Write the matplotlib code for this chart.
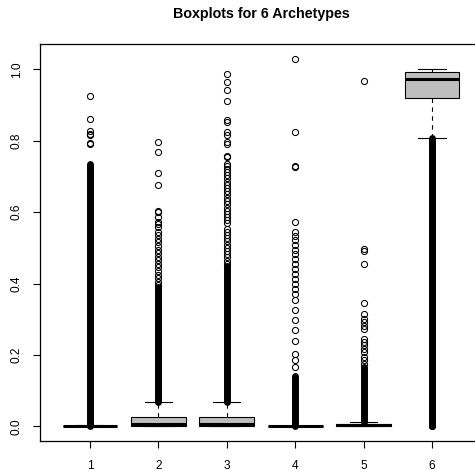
import matplotlib
matplotlib.use("Agg")
import matplotlib.pyplot as plt

plt.rcParams['font.family'] = ['Liberation Sans', 'DejaVu Sans']

categories = ["1", "2", "3", "4", "5", "6"]
title = "Boxplots for 6 Archetypes"

q1 = [0.0, 0.001, 0.001, 0.0, 0.002, 0.920]
medians = [0.0, 0.006, 0.006, 0.0, 0.004, 0.972]
q3 = [0.001, 0.027, 0.027, 0.001, 0.006, 0.993]
whislo = [0.0, 0.0, 0.0, 0.0, 0.0, 0.809]
whishi = [0.005, 0.067, 0.067, 0.001, 0.012, 1.0]

# sparse outliers
out1 = [0.926, 0.861, 0.828, 0.820, 0.815, 0.793, 0.790]
out2 = [0.796, 0.768, 0.709, 0.676, 0.603, 0.600, 0.587, 0.573, 0.568, 0.559,
        0.545, 0.535, 0.525, 0.515, 0.505, 0.495, 0.485, 0.475, 0.465, 0.455,
        0.445, 0.435, 0.425, 0.415, 0.405, 0.395]
out3 = [0.987, 0.965, 0.942, 0.912, 0.859, 0.852, 0.824, 0.815, 0.798, 0.790,
        0.756, 0.754, 0.735, 0.728, 0.720, 0.712, 0.703, 0.695, 0.685, 0.676,
        0.668, 0.659, 0.650, 0.641, 0.632, 0.622, 0.613, 0.604, 0.595, 0.586,
        0.578, 0.569, 0.554, 0.545, 0.536, 0.527, 0.518, 0.509, 0.500, 0.491,
        0.482, 0.473, 0.464, 0.455]
out4 = [1.030, 0.824, 0.728, 0.726, 0.573, 0.545, 0.533, 0.522, 0.508, 0.495,
        0.484, 0.470, 0.456, 0.442, 0.428, 0.414, 0.400, 0.386, 0.372, 0.353,
        0.325, 0.297, 0.269, 0.240, 0.203, 0.185, 0.166]
out5 = [0.968, 0.497, 0.492, 0.455, 0.345, 0.316, 0.302, 0.292, 0.281, 0.274,
        0.245, 0.236, 0.227, 0.217, 0.208, 0.194, 0.185, 0.175]
out6 = [0.0]
outliers = [out1, out2, out3, out4, out5, out6]

# ranges where outliers overlap into a solid column
dense_lo = [0.0, 0.068, 0.068, 0.0, 0.012, 0.0]
dense_hi = [0.735, 0.390, 0.450, 0.140, 0.166, 0.809]

W, H = 475, 473
fig = plt.figure(figsize=(W / 100, H / 100), dpi=100)
ax = fig.add_axes([39.5 / W, 32 / H, 443 / W, 397 / H])

positions = list(range(1, len(categories) + 1))
stats = []
for i in range(len(categories)):
    stats.append(dict(med=medians[i], q1=q1[i], q3=q3[i],
                      whislo=whislo[i], whishi=whishi[i], fliers=[]))

ax.bxp(stats, positions=positions, widths=0.8, capwidths=0.4,
       patch_artist=True, showfliers=False,
       boxprops=dict(facecolor='#BEBEBE', edgecolor='black', linewidth=0.8),
       medianprops=dict(color='black', linewidth=2.2, solid_capstyle='butt'),
       whiskerprops=dict(color='black', linewidth=0.8, linestyle=(0, (4, 4))),
       capprops=dict(color='black', linewidth=0.8))

for i, p in enumerate(positions):
    ax.plot([p, p], [dense_lo[i], dense_hi[i]], color='black', linewidth=5.0,
            solid_capstyle='round', zorder=3)
    ax.plot([p] * len(outliers[i]), outliers[i], linestyle='none', marker='o',
            markersize=4.4, markerfacecolor='none', markeredgecolor='black',
            markeredgewidth=0.75, zorder=4)

ax.set_xlim(0.26, 6.74)
ax.set_ylim(-0.0412, 1.0712)
ax.set_xticks(positions)
ax.set_xticklabels(categories)
ax.set_yticks([0.0, 0.2, 0.4, 0.6, 0.8, 1.0])
ax.set_yticklabels(["0.0", "0.2", "0.4", "0.6", "0.8", "1.0"], rotation=90,
                   va='center')
ax.tick_params(axis='both', direction='out', length=5, width=0.8,
               labelsize=8.6, colors='black')
ax.tick_params(axis='x', pad=9)
ax.tick_params(axis='y', pad=7)
for s in ax.spines.values():
    s.set_linewidth(0.9)

fig.text(261 / W, 1 - 14 / H, title, ha='center', va='center',
         fontsize=10.3, fontweight='bold')

fig.savefig("out.png", dpi=100)
